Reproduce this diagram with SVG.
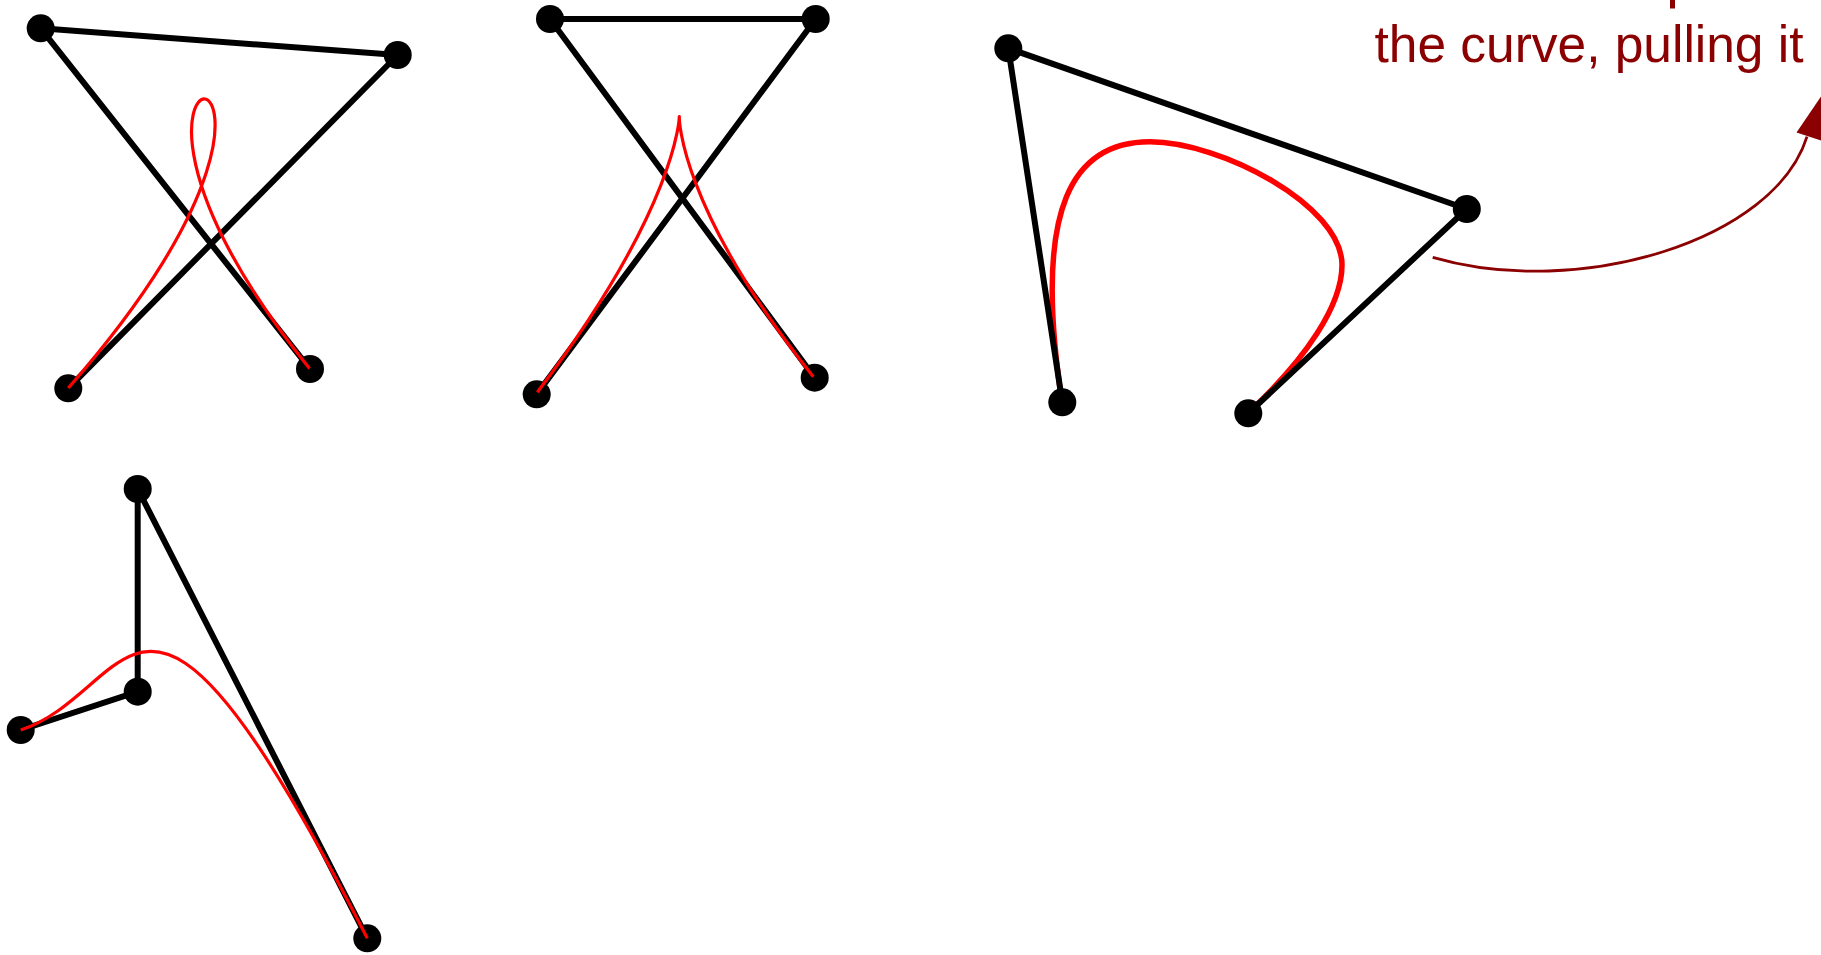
<svg xmlns="http://www.w3.org/2000/svg" width="1821" height="955" viewBox="0 0 1821 955">
<style>
.edge{stroke:#000;stroke-width:6;fill:none;stroke-linecap:round}
.dot{fill:#000}
.curve{stroke:#ff0000;stroke-width:3.2;fill:none}
.curve-thick{stroke:#ff0000;stroke-width:5.5;fill:none}
.note{fill:#8b0000;font-family:"Liberation Sans",Arial,sans-serif;font-size:51.5px}
</style>
<rect width="1821" height="955" fill="#fff"/>

<!-- Panel 1 -->
<g id="panel1">
  <g id="p1-connectors">
    <line class="edge" x1="40.7" y1="28.3" x2="397.7" y2="55"/>
    <line class="edge" x1="40.7" y1="28.3" x2="310" y2="369"/>
    <line class="edge" x1="397.7" y1="55" x2="68.3" y2="388.3"/>
  </g>
  <g id="p1-n0"><circle class="dot" cx="68.3" cy="388.3" r="14"/></g>
  <g id="p1-n1"><circle class="dot" cx="397.7" cy="55" r="14"/></g>
  <g id="p1-n2"><circle class="dot" cx="40.7" cy="28.3" r="14"/></g>
  <g id="p1-n3"><circle class="dot" cx="310" cy="369" r="14"/></g>
  <path id="p1-curve" class="curve" d="M68.3,388 C403.2,5.9 17.5,5.9 309.5,368.5"/>
</g>

<!-- Panel 2 -->
<g id="panel2">
  <g id="p2-connectors">
    <line class="edge" x1="550" y1="19" x2="815.7" y2="19"/>
    <line class="edge" x1="550" y1="19" x2="814.7" y2="377.7"/>
    <line class="edge" x1="815.7" y1="19" x2="536.7" y2="394.3"/>
  </g>
  <g id="p2-n0"><circle class="dot" cx="536.7" cy="394.3" r="14"/></g>
  <g id="p2-n1"><circle class="dot" cx="815.7" cy="19" r="14"/></g>
  <g id="p2-n2"><circle class="dot" cx="550" cy="19" r="14"/></g>
  <g id="p2-n3"><circle class="dot" cx="814.7" cy="377.7" r="14"/></g>
  <path id="p2-curve" class="curve" d="M537.3,392.3 C818.6,19.6 542.6,35.3 813.3,376.7"/>
</g>

<!-- Panel 3 -->
<g id="panel3">
  <path id="p3-curve" class="curve-thick" d="M1062,402 C1031.5,202 1075,141.7 1150,141.7 C1220,141.7 1342,205 1342,265 C1342,305 1306.6,358.4 1248,413"/>
  <g id="p3-connectors">
    <line class="edge" x1="1008.3" y1="48.3" x2="1062.3" y2="402.3"/>
    <line class="edge" x1="1008.3" y1="48.3" x2="1466.8" y2="209"/>
    <line class="edge" x1="1466.8" y1="209" x2="1248.3" y2="413.3"/>
  </g>
  <g id="p3-n0"><circle class="dot" cx="1062.3" cy="402.3" r="14"/></g>
  <g id="p3-n1"><circle class="dot" cx="1008.3" cy="48.3" r="14"/></g>
  <g id="p3-n2"><circle class="dot" cx="1466.8" cy="209" r="14"/></g>
  <g id="p3-n3"><circle class="dot" cx="1248.3" cy="413.3" r="14"/></g>
</g>

<!-- Annotation -->
<g id="annotation">
  <rect x="1670" y="0" width="5" height="8.5" fill="#8b0000"/>
  <text class="note" x="1803.5" y="62.3" text-anchor="end" textLength="429" lengthAdjust="spacing">the curve, pulling it</text>
  <g id="annotation-connector">
    <path d="M1432.7,257.3 C1580,300 1775,240 1807,136.7" fill="none" stroke="#8b0000" stroke-width="2.8"/>
    <polygon points="1796.5,132.5 1834,144.6 1835,76" fill="#8b0000"/>
  </g>
</g>

<!-- Panel 4 -->
<g id="panel4">
  <g id="p4-connectors">
    <line class="edge" x1="20.7" y1="730" x2="137.7" y2="691.7"/>
    <line class="edge" x1="137.7" y1="691.7" x2="137.7" y2="489"/>
    <line class="edge" x1="137.7" y1="489" x2="367.3" y2="938.3"/>
  </g>
  <g id="p4-n0"><circle class="dot" cx="20.7" cy="730" r="14"/></g>
  <g id="p4-n1"><circle class="dot" cx="137.7" cy="691.7" r="14"/></g>
  <g id="p4-n2"><circle class="dot" cx="137.7" cy="489" r="14"/></g>
  <g id="p4-n3"><circle class="dot" cx="367.3" cy="938.3" r="14"/></g>
  <path id="p4-curve" class="curve" d="M20.7,730 C137.7,691.7 137.7,489 367.3,938.3"/>
</g>
</svg>
